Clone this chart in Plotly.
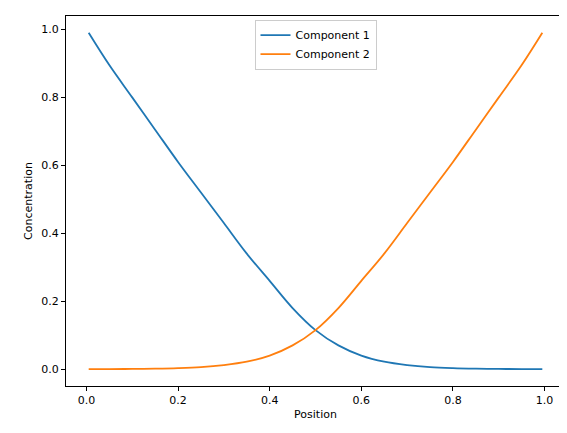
import plotly.graph_objects as go

# Concentration profiles
position = [0.005, 0.05, 0.1, 0.15, 0.2, 0.25, 0.3, 0.35, 0.4, 0.45, 0.5,
            0.55, 0.6, 0.65, 0.7, 0.75, 0.8, 0.85, 0.9, 0.95, 0.995]
component_1 = [0.99, 0.895, 0.80, 0.705, 0.61, 0.52, 0.43, 0.34, 0.26, 0.18, 0.115,
               0.07, 0.04, 0.022, 0.012, 0.006, 0.003, 0.0015, 0.0007, 0.0003, 0.0001]
component_2 = [0.0001, 0.0003, 0.0007, 0.0015, 0.003, 0.006, 0.012, 0.022, 0.04, 0.07, 0.115,
               0.18, 0.26, 0.34, 0.43, 0.52, 0.61, 0.705, 0.80, 0.895, 0.99]

fig = go.Figure()
fig.add_trace(go.Scatter(x=position, y=component_1, mode='lines', name='Component 1',
                         line=dict(color='#1f77b4', width=1.8, shape='spline')))
fig.add_trace(go.Scatter(x=position, y=component_2, mode='lines', name='Component 2',
                         line=dict(color='#ff7f0e', width=1.8, shape='spline')))

axis_style = dict(showgrid=False, zeroline=False, showline=True, mirror=True,
                  linecolor='black', linewidth=1, ticks='outside', ticklen=4,
                  tickcolor='black', tickfont=dict(size=11, color='black'))

fig.update_xaxes(title_text='Position', title_font=dict(size=11),
                 range=[-0.0445, 1.0445],
                 tickvals=[0, 0.2, 0.4, 0.6, 0.8, 1.0], tickformat='.1f',
                 title_standoff=4, **axis_style)
fig.update_yaxes(title_text='Concentration', title_font=dict(size=11),
                 range=[-0.0495, 1.0395],
                 tickvals=[0, 0.2, 0.4, 0.6, 0.8, 1.0], tickformat='.1f',
                 title_standoff=6, **axis_style)

fig.update_layout(
    width=567, height=433,
    margin=dict(l=58, r=10, t=8, b=55),
    plot_bgcolor='white', paper_bgcolor='white',
    font=dict(family='DejaVu Sans', size=11, color='black'),
    legend=dict(x=0.5, xanchor='center', y=0.99, yanchor='top',
                bordercolor='#cccccc', borderwidth=1, bgcolor='white',
                font=dict(size=11)),
)

fig.write_html("out.html")
